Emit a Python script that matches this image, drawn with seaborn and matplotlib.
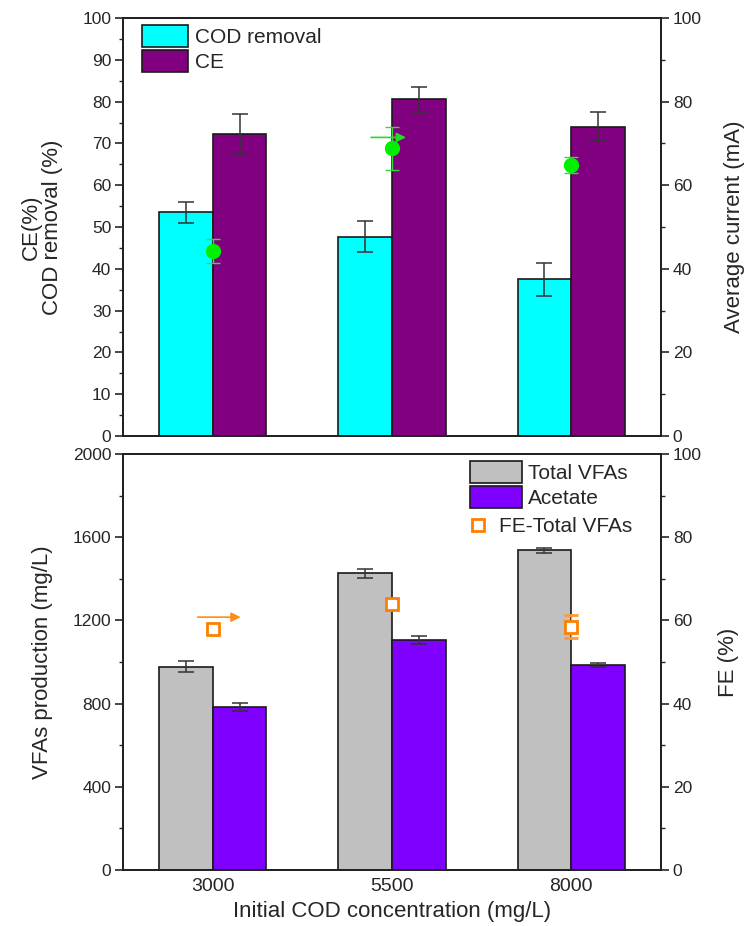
import numpy as np
import pandas as pd
import matplotlib
matplotlib.use("Agg")
import matplotlib.pyplot as plt
from matplotlib.patches import Patch
from matplotlib.lines import Line2D
from matplotlib.ticker import MultipleLocator
from matplotlib.transforms import offset_copy
import seaborn as sns

# ---------------- data ----------------
categories = ["3000", "5500", "8000"]
cod_removal = [53.5, 47.7, 37.5]
cod_removal_err = [2.5, 3.8, 4.0]
ce = [72.2, 80.6, 74.0]
ce_err = [4.8, 3.0, 3.5]
avg_current = [44.3, 68.8, 64.8]
avg_current_err = [2.9, 5.2, 2.0]

total_vfas = [977, 1426, 1537]
total_vfas_err = [27, 22, 13]
acetate = [785, 1106, 986]
acetate_err = [20, 19, 11]
fe_total = [57.9, 63.9, 58.5]
fe_total_err = [0.6, 0.6, 2.8]

sns.set_style("ticks")
plt.rcParams['font.family'] = ['Liberation Sans', 'DejaVu Sans']
plt.rcParams['axes.linewidth'] = 1.4

fig = plt.figure(figsize=(7.44, 9.26), dpi=100)
L, R = 123 / 744, 661 / 744
ax_top = fig.add_axes([L, 1 - 436 / 926, R - L, (436 - 18) / 926])
ax_bot = fig.add_axes([L, 1 - 870 / 926, R - L, (870 - 454) / 926])

EC = "#1a1a1a"
ERRC = "#333333"
TICK_FS = 12.5
XTICK_FS = 14
LAB_FS = 16
LEG_FS = 15


def style_y(ax):
    ax.tick_params(axis="y", labelsize=TICK_FS, direction="out", length=5.5,
                   width=1.2, pad=3)
    ax.tick_params(axis="y", which="minor", direction="out", length=3, width=1.0)


def bars(ax, s1, s2, e1, e2, n1, n2, c1, c2):
    df = pd.DataFrame({
        "cat": categories * 2,
        "value": list(s1) + list(s2),
        "series": [n1] * 3 + [n2] * 3,
    })
    sns.barplot(data=df, x="cat", y="value", hue="series", order=categories,
                hue_order=[n1, n2], palette=[c1, c2], width=0.6,
                edgecolor=EC, linewidth=1.2, errorbar=None, ax=ax, legend=False,
                saturation=1)
    for cont, errs in zip(ax.containers, [e1, e2]):
        xs = [b.get_x() + b.get_width() / 2 for b in cont]
        hs = [b.get_height() for b in cont]
        ax.errorbar(xs, hs, yerr=errs, fmt="none", ecolor=ERRC, elinewidth=1.1,
                    capsize=6, capthick=1.1, zorder=5)
    ax.set_xlim(-0.5, 2.5)


def axis_arrow(ax, point, dx0, dx1, dy, color):
    t1 = offset_copy(ax.transData, fig=fig, x=dx0, y=dy, units="dots")
    t2 = offset_copy(ax.transData, fig=fig, x=dx1, y=dy, units="dots")
    x0, y0 = t1.transform(point)
    x1, y1 = t2.transform(point)
    ax.annotate("", xy=(x1, y1), xycoords="figure pixels",
                xytext=(x0, y0), textcoords="figure pixels",
                arrowprops=dict(arrowstyle="-|>", color=color, lw=1.2,
                                mutation_scale=14, shrinkA=0, shrinkB=0))


# ---------------- top panel ----------------
bars(ax_top, cod_removal, ce, cod_removal_err, ce_err, "COD removal", "CE",
     "#00FFFF", "#800080")
ax_top.set_ylim(0, 100)
ax_top.yaxis.set_major_locator(MultipleLocator(10))
ax_top.yaxis.set_minor_locator(MultipleLocator(5))
ax_top.set_xticks(range(3))
ax_top.set_xticklabels([])
ax_top.tick_params(axis="x", length=0)
ax_top.set_xlabel("")
ax_top.set_ylabel("CE(%)\nCOD removal (%)", fontsize=LAB_FS, labelpad=14,
                  linespacing=1.0)
style_y(ax_top)

ax_top2 = ax_top.twinx()
ax_top2.set_ylim(0, 100)
ax_top2.yaxis.set_major_locator(MultipleLocator(20))
ax_top2.yaxis.set_minor_locator(MultipleLocator(10))
style_y(ax_top2)
ax_top2.set_ylabel("Average current (mA)", fontsize=LAB_FS, labelpad=16)
ax_top2.errorbar(range(3), avg_current, yerr=avg_current_err, fmt="o",
                 color="#00EE00", ecolor="#33DD33", markersize=10, elinewidth=1,
                 capsize=5, capthick=1, zorder=6)
axis_arrow(ax_top2, (1, avg_current[1]), -21, 14, 11, "#22DD22")

handles_top = [Patch(facecolor="#00FFFF", edgecolor=EC, linewidth=1.2),
               Patch(facecolor="#800080", edgecolor=EC, linewidth=1.2)]
ax_top2.legend(handles_top, ["COD removal", "CE"], loc="upper left",
               bbox_to_anchor=(0.03, 0.99), frameon=False, fontsize=LEG_FS,
               handlelength=2.2, handleheight=1.25, handletextpad=0.35,
               labelspacing=0.12, borderpad=0.15, borderaxespad=0)

# ---------------- bottom panel ----------------
bars(ax_bot, total_vfas, acetate, total_vfas_err, acetate_err, "Total VFAs",
     "Acetate", "#C0C0C0", "#8000FF")
ax_bot.set_ylim(0, 2000)
ax_bot.yaxis.set_major_locator(MultipleLocator(400))
ax_bot.yaxis.set_minor_locator(MultipleLocator(200))
ax_bot.set_xticks(range(3))
ax_bot.set_xticklabels(categories)
ax_bot.tick_params(axis="x", length=0, labelsize=XTICK_FS, pad=6)
ax_bot.set_xlabel("Initial COD concentration (mg/L)", fontsize=LAB_FS, labelpad=4)
ax_bot.set_ylabel("VFAs production (mg/L)", fontsize=LAB_FS, labelpad=14)
style_y(ax_bot)

ax_bot2 = ax_bot.twinx()
ax_bot2.set_ylim(0, 100)
ax_bot2.yaxis.set_major_locator(MultipleLocator(20))
ax_bot2.yaxis.set_minor_locator(MultipleLocator(10))
style_y(ax_bot2)
ax_bot2.set_ylabel("FE (%)", fontsize=LAB_FS, labelpad=12)
ax_bot2.errorbar(range(3), fe_total, yerr=fe_total_err, fmt="s",
                 color="#FF8000", markerfacecolor="white", markeredgecolor="#FF8000",
                 markeredgewidth=2, markersize=8, ecolor="#FF9933", elinewidth=1,
                 capsize=5, capthick=1, zorder=6)
axis_arrow(ax_bot2, (0, fe_total[0]), -15, 28, 12, "#FF8C1A")

handles_bot = [Patch(facecolor="#C0C0C0", edgecolor=EC, linewidth=1.2),
               Patch(facecolor="#8000FF", edgecolor=EC, linewidth=1.2)]
leg1 = ax_bot2.legend(handles_bot, ["Total VFAs", "Acetate"], loc="upper left",
                      bbox_to_anchor=(0.645, 0.983), frameon=False, fontsize=LEG_FS,
                      handlelength=2.5, handleheight=1.25, handletextpad=0.3,
                      labelspacing=0.12, borderpad=0.0, borderaxespad=0)
ax_bot2.add_artist(leg1)
h_fe = Line2D([], [], linestyle="none", marker="s", markersize=8,
              markerfacecolor="white", markeredgecolor="#FF8000", markeredgewidth=2)
ax_bot2.legend([h_fe], ["FE-Total VFAs"], loc="upper left",
               bbox_to_anchor=(0.645, 0.848), frameon=False, fontsize=LEG_FS,
               handlelength=0.8, handletextpad=0.6, borderpad=0.0, borderaxespad=0)

for a in (ax_top, ax_top2, ax_bot, ax_bot2):
    for s in a.spines.values():
        s.set_visible(True)
        s.set_linewidth(1.4)
        s.set_color("#222222")

fig.savefig("out.png", dpi=100)
